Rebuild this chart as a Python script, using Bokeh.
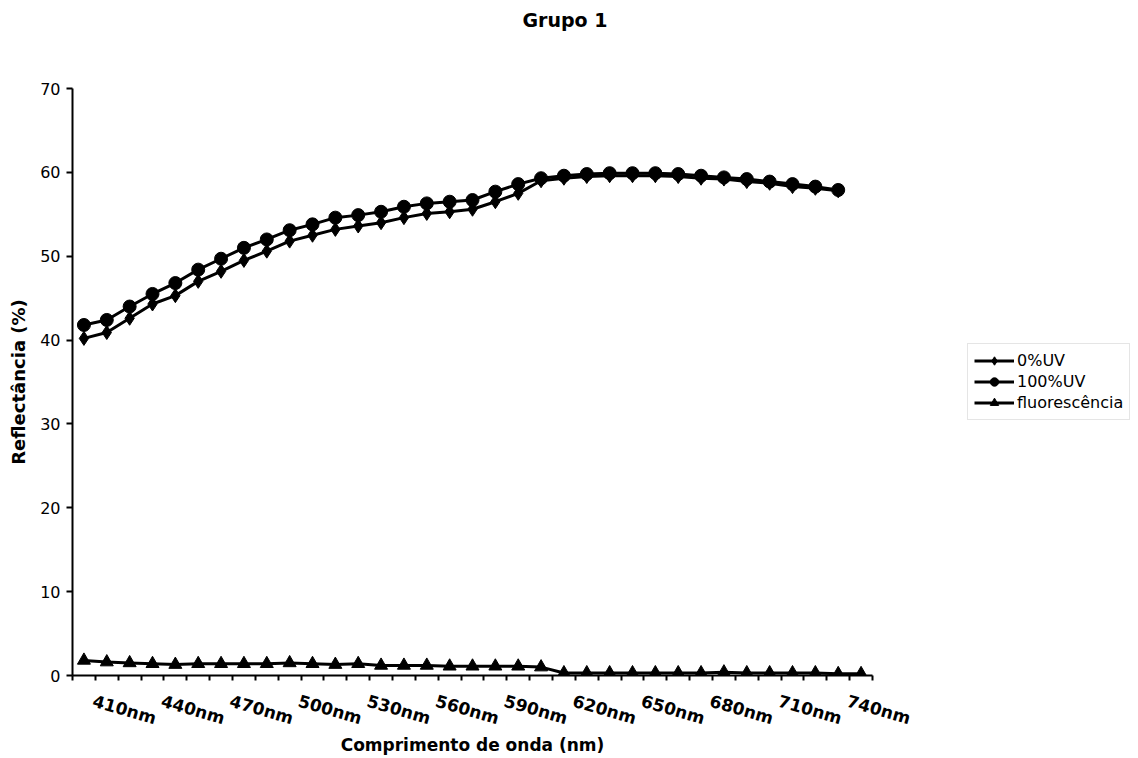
from bokeh.plotting import figure
from bokeh.models import FixedTicker, Legend, LegendItem
from bokeh.embed import file_html
from bokeh.resources import INLINE

# ---- data ----
wavelengths = list(range(400, 750, 10))  # 400..740 nm
uv0 = [40.2, 40.9, 42.6, 44.3, 45.3, 47.0, 48.2, 49.5, 50.6, 51.8, 52.5, 53.2, 53.6, 54.0,
       54.6, 55.1, 55.3, 55.6, 56.5, 57.5, 59.0, 59.3, 59.5, 59.6, 59.6, 59.6, 59.5, 59.3,
       59.2, 58.9, 58.7, 58.3, 58.1, 57.8]
uv100 = [41.8, 42.4, 44.0, 45.5, 46.8, 48.4, 49.7, 51.0, 52.0, 53.1, 53.8, 54.6, 54.9, 55.3,
         55.9, 56.3, 56.5, 56.7, 57.7, 58.6, 59.3, 59.6, 59.8, 59.9, 59.9, 59.9, 59.8, 59.6,
         59.4, 59.2, 58.9, 58.6, 58.3, 57.9]
fluor = [1.8, 1.6, 1.5, 1.4, 1.3, 1.4, 1.4, 1.4, 1.4, 1.5, 1.4, 1.3, 1.4, 1.2, 1.2, 1.2,
         1.1, 1.1, 1.1, 1.1, 1.0, 0.3, 0.3, 0.3, 0.3, 0.3, 0.3, 0.3, 0.4, 0.3, 0.3, 0.3,
         0.3, 0.2, 0.2]
tick_labels = [f"{w}nm" for w in wavelengths]
series_names = ["0%UV", "100%UV", "fluorescência"]
chart_title = "Grupo 1"

idx_all = list(range(len(wavelengths)))

p = figure(width=1138, height=758, output_backend="svg", toolbar_location=None,
           x_range=(-0.5, len(wavelengths) - 0.5), y_range=(0, 70),
           min_border_left=72, min_border_right=266, min_border_top=88, min_border_bottom=83,
           frame_width=800, frame_height=587,
           title=chart_title + "\n \n ")
p.outline_line_color = None
p.xgrid.grid_line_color = None
p.ygrid.grid_line_color = None

p.title.text_font = "DejaVu Sans"
p.title.text_font_style = "bold"
p.title.text_font_size = "19px"
p.title.text_line_height = 1.2
p.title.text_color = "black"
p.title.align = "left"
p.title.offset = 450
p.title.standoff = 10

# x axis: tick marks at category boundaries (minor), labels every third category
labeled = list(range(1, len(wavelengths), 3))
label_pos = [i - 0.6 for i in labeled]
p.xaxis.ticker = FixedTicker(ticks=label_pos,
                             minor_ticks=[i - 0.5 for i in range(len(wavelengths) + 1)])
p.xaxis.major_label_overrides = {pos: tick_labels[i] for pos, i in zip(label_pos, labeled)}
p.xaxis.major_tick_line_color = None
p.xaxis.minor_tick_out = 5
p.xaxis.minor_tick_in = 0
p.xaxis.minor_tick_line_width = 2
p.xaxis.axis_line_width = 2
p.xaxis.major_label_orientation = -0.28
p.xaxis.major_label_standoff = 19
p.xaxis.major_label_text_font = "DejaVu Sans"
p.xaxis.major_label_text_font_style = "bold"
p.xaxis.major_label_text_font_size = "17px"
p.xaxis.major_label_text_color = "black"
p.xaxis.axis_label = "Comprimento de onda (nm)"
p.xaxis.axis_label_text_font = "DejaVu Sans"
p.xaxis.axis_label_text_font_style = "bold"
p.xaxis.axis_label_text_font_size = "17px"
p.xaxis.axis_label_text_color = "black"
p.xaxis.axis_label_standoff = -6

p.yaxis.ticker = FixedTicker(ticks=list(range(0, 71, 10)))
p.yaxis.minor_tick_line_color = None
p.yaxis.major_tick_out = 6
p.yaxis.major_tick_in = 0
p.yaxis.major_tick_line_width = 2
p.yaxis.axis_line_width = 2
p.yaxis.major_label_text_font = "DejaVu Sans"
p.yaxis.major_label_text_font_size = "16px"
p.yaxis.major_label_text_color = "black"
p.yaxis.major_label_standoff = 6
p.yaxis.axis_label = "Reflectância (%)"
p.yaxis.axis_label_text_font = "DejaVu Sans"
p.yaxis.axis_label_text_font_style = "bold"
p.yaxis.axis_label_text_font_size = "18px"
p.yaxis.axis_label_text_color = "black"
p.yaxis.axis_label_standoff = 8

n0 = len(uv0)
l0 = p.line(idx_all[:n0], uv0, line_color="black", line_width=3)
m0 = p.scatter(idx_all[:n0], uv0, marker="diamond", size=14, color="black")
l1 = p.line(idx_all[:n0], uv100, line_color="black", line_width=3)
m1 = p.scatter(idx_all[:n0], uv100, marker="circle", size=13, color="black")
l2 = p.line(idx_all, fluor, line_color="black", line_width=3)
m2 = p.scatter(idx_all, fluor, marker="triangle", size=13, color="black")

legend = Legend(items=[LegendItem(label=series_names[0], renderers=[l0, m0]),
                       LegendItem(label=series_names[1], renderers=[l1, m1]),
                       LegendItem(label=series_names[2], renderers=[l2, m2])],
                location=(95, 255), label_text_font="DejaVu Sans",
                label_text_font_size="16px", label_text_color="black",
                glyph_width=40, glyph_height=21,
                label_height=20, spacing=0, padding=6, margin=0,
                border_line_color="#cccccc", border_line_width=1,
                label_standoff=3)
p.add_layout(legend, "right")

open("out.html", "w").write(file_html(p, INLINE))
